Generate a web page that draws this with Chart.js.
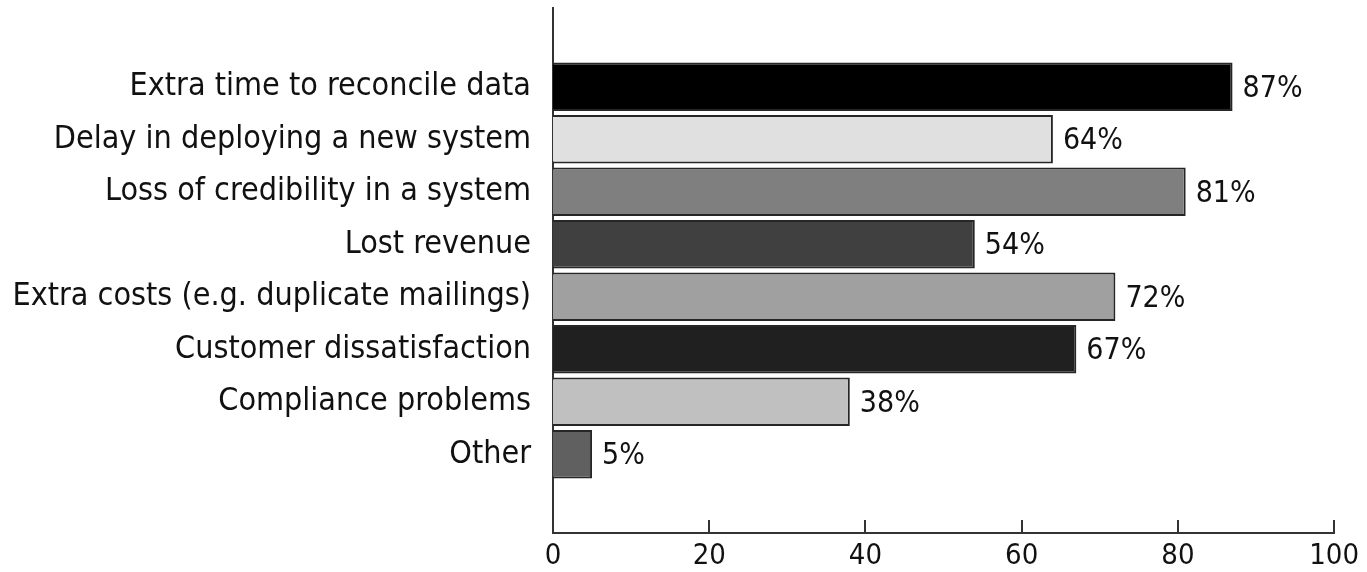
<!DOCTYPE html>
<html>
<head>
<meta charset="utf-8">
<script src="https://cdn.jsdelivr.net/npm/chart.js@4/dist/chart.umd.min.js"></script>
<style>
  html, body { margin: 0; padding: 0; background: #ffffff; }
  canvas { display: block; }
</style>
</head>
<body>
<canvas id="chart" width="1367" height="572"></canvas>
<script>
// Consequences reported for poor data quality (% of respondents)
const categories = [
  'Extra time to reconcile data',
  'Delay in deploying a new system',
  'Loss of credibility in a system',
  'Lost revenue',
  'Extra costs (e.g. duplicate mailings)',
  'Customer dissatisfaction',
  'Compliance problems',
  'Other'
];
const percentages = [87, 64, 81, 54, 72, 67, 38, 5];
const barColors = ['#000000', '#e0e0e0', '#7f7f7f', '#404040', '#a0a0a0', '#202020', '#c0c0c0', '#606060'];
const xTickValues = [0, 20, 40, 60, 80, 100];

const FONT = '"Liberation Sans Narrow", "Arial Narrow", "DejaVu Sans Condensed", sans-serif';

// One empty band above and below the bars
const labels = [''].concat(categories, ['']);
const values = [null].concat(percentages, [null]);
const colors = ['#000'].concat(barColors, ['#000']);

// Short tick marks pointing up from the value axis
const innerTicks = {
  id: 'innerTicks',
  afterDraw(chart) {
    const { ctx, chartArea, scales } = chart;
    ctx.save();
    ctx.strokeStyle = '#333';
    ctx.lineWidth = 2;
    xTickValues.forEach(v => {
      const px = Math.round(scales.x.getPixelForValue(v));
      ctx.beginPath();
      ctx.moveTo(px, chartArea.bottom);
      ctx.lineTo(px, chartArea.bottom - 13);
      ctx.stroke();
    });
    ctx.restore();
  }
};

// Percentage labels at the end of each bar
const valueLabels = {
  id: 'valueLabels',
  afterDatasetsDraw(chart) {
    const { ctx } = chart;
    const meta = chart.getDatasetMeta(0);
    ctx.save();
    ctx.font = '30px ' + FONT;
    ctx.fillStyle = '#111';
    ctx.textAlign = 'left';
    ctx.textBaseline = 'middle';
    meta.data.forEach((bar, i) => {
      const v = values[i];
      if (v === null) return;
      ctx.fillText(v + '%', bar.x + 10, bar.y + 2);
    });
    ctx.restore();
  }
};

new Chart(document.getElementById('chart'), {
  type: 'bar',
  data: {
    labels: labels,
    datasets: [{
      data: values,
      backgroundColor: colors,
      borderColor: '#262626',
      borderWidth: 2,
      barPercentage: 0.92,
      categoryPercentage: 1.0
    }]
  },
  options: {
    indexAxis: 'y',
    responsive: false,
    animation: false,
    devicePixelRatio: 1,
    layout: { padding: { top: 8, right: 29, bottom: 0, left: 0 } },
    plugins: {
      legend: { display: false },
      tooltip: { enabled: false }
    },
    scales: {
      x: {
        min: 0,
        max: 100,
        grid: { display: false, drawTicks: false },
        border: { display: true, color: '#333', width: 2 },
        afterFit(scale) { scale.height = 39; },
        ticks: {
          stepSize: 20,
          padding: 8,
          color: '#111',
          font: { family: FONT, size: 29, lineHeight: 1.1 }
        }
      },
      y: {
        grid: { display: false, drawTicks: false },
        border: { display: true, color: '#333', width: 2 },
        afterFit(scale) {
          scale.width = 553;
          scale.paddingTop = 0;
          scale.paddingBottom = 0;
        },
        ticks: {
          autoSkip: false,
          padding: 22,
          color: '#111',
          font: { family: FONT, size: 32 }
        }
      }
    }
  },
  plugins: [innerTicks, valueLabels]
});
</script>
</body>
</html>
